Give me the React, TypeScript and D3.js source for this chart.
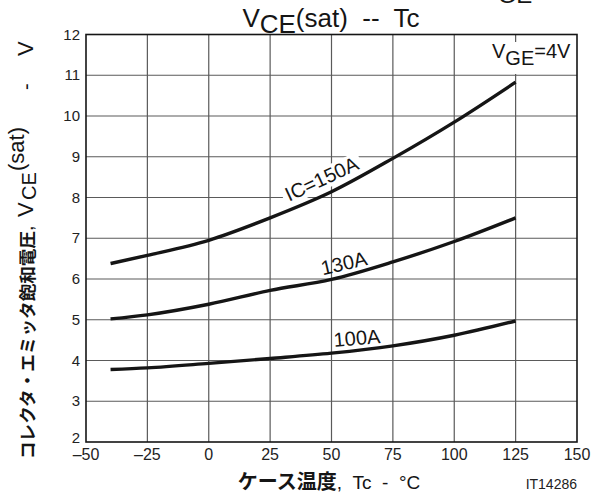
import React from "react";
import * as d3 from "d3";

const temps = [-40, -25, 0, 25, 50, 75, 100, 125];
const ic150 = [6.38, 6.58, 6.95, 7.5, 8.14, 8.96, 9.85, 10.83];
const ic130 = [5.02, 5.12, 5.38, 5.72, 5.99, 6.42, 6.92, 7.5];
const ic100 = [3.78, 3.82, 3.93, 4.05, 4.18, 4.36, 4.62, 4.97];
const xTicks = [-50, -25, 0, 25, 50, 75, 100, 125, 150];
const xTickLabels = ["–50", "–25", "0", "25", "50", "75", "100", "125", "150"];
const yTicks = [2, 3, 4, 5, 6, 7, 8, 9, 10, 11, 12];

const W = 603, H = 496;
const L = 86, R = 577, T = 34.5, B = 442;
const SANS = "'Liberation Sans', Arial, sans-serif";
const JP = "'Noto Sans CJK JP', sans-serif";
const pre = { whiteSpace: "pre" as const };

export default function App() {
  const x = d3.scaleLinear().domain([-50, 150]).range([L, R]);
  const y = d3.scaleLinear().domain([2, 12]).range([B, T]);
  const line = d3.line<[number, number]>().x(d => x(d[0])).y(d => y(d[1])).curve(d3.curveMonotoneX);
  const series = [ic150, ic130, ic100];
  return (
    <svg width={W} height={H} style={{ position: "absolute", left: 0, top: 0, background: "#fff" }}>
      <rect x={0} y={0} width={W} height={H} fill="#fff" />
      {xTicks.slice(1, -1).map(t => (
        <line key={"gx" + t} x1={x(t)} x2={x(t)} y1={T} y2={B} stroke="#5a5a5a" strokeWidth={1.2} />
      ))}
      {yTicks.slice(1, -1).map(t => (
        <line key={"gy" + t} x1={L} x2={R} y1={y(t)} y2={y(t)} stroke="#5a5a5a" strokeWidth={1.2} />
      ))}
      <rect x={488} y={42} width={88} height={32} fill="#fff" />
      {series.map((s, i) => (
        <path key={i} d={line(temps.map((t, j) => [t, s[j]]) as [number, number][]) || ""}
          fill="none" stroke="#151515" strokeWidth={3.4} />
      ))}
      <g transform={`translate(${x(47.2)},${y(8.3)}) rotate(-25)`}>
        <rect x={-43} y={-17} width={86} height={21} fill="#fff" />
        <text x={0} y={0} textAnchor="middle" fontFamily={SANS} fontSize={20} fill="#151515">IC=150A</text>
      </g>
      <g transform={`translate(${x(55.7)},${y(6.22)}) rotate(-13)`}>
        <text x={0} y={0} textAnchor="middle" fontFamily={SANS} fontSize={20} fill="#151515">130A</text>
      </g>
      <g transform={`translate(${x(60.6)},${y(4.38)}) rotate(-5)`}>
        <text x={0} y={0} textAnchor="middle" fontFamily={SANS} fontSize={20} fill="#151515">100A</text>
      </g>
      <text x={492} y={58} fontFamily={SANS} fontSize={20} fill="#151515">
        V<tspan dy={7}>GE</tspan><tspan dy={-7}>=4V</tspan>
      </text>
      <rect x={L} y={T} width={R - L} height={B - T} fill="none" stroke="#151515" strokeWidth={1.6} />
      {yTicks.map(t => (
        <text key={"yt" + t} x={80} y={Math.min(y(t) + 5, B + 1)} textAnchor="end" fontFamily={SANS} fontSize={15} fill="#222">{t}</text>
      ))}
      {xTicks.map((t, i) => (
        <text key={"xt" + t} x={x(t)} y={460} textAnchor="middle" fontFamily={SANS} fontSize={16} fill="#222">{xTickLabels[i]}</text>
      ))}
      <text x={331} y={27} textAnchor="middle" fontFamily={SANS} fontSize={26} fill="#151515" xmlSpace="preserve" style={pre}>
        V<tspan dy={6}>CE</tspan><tspan dy={-6}>(sat)  --  Tc</tspan>
      </text>
      <text x={515} y={3} textAnchor="middle" fontFamily={SANS} fontSize={24} fill="#151515">GE</text>
      <text x={329} y={489} textAnchor="middle" fontFamily={SANS} fontSize={19} fill="#151515" xmlSpace="preserve" style={pre}>
        <tspan fontFamily={JP} fontWeight="bold" fontSize={20}>ケース温度</tspan>,  Tc  -  °C
      </text>
      <text x={577} y={489} textAnchor="end" fontFamily={SANS} fontSize={14} fill="#222">IT14286</text>
      <g transform="translate(34,0) rotate(-90)">
        <text x={-459} y={0} textAnchor="start" fontFamily={JP} fontWeight="bold" fontSize={17.6} fill="#151515">コレクタ・エミッタ飽和電圧</text>
        <text y={-1} fontFamily={SANS} fontSize={20} fill="#151515">
          <tspan x={-231}>,</tspan>
          <tspan x={-217} fontSize={22}>V</tspan>
          <tspan x={-200} dy={3}>CE</tspan>
          <tspan x={-171} dy={-12} fontSize={22}>(sat)</tspan>
          <tspan x={-90} dy={9}>-</tspan>
          <tspan x={-56} fontSize={22}>V</tspan>
        </text>
      </g>
    </svg>
  );
}
